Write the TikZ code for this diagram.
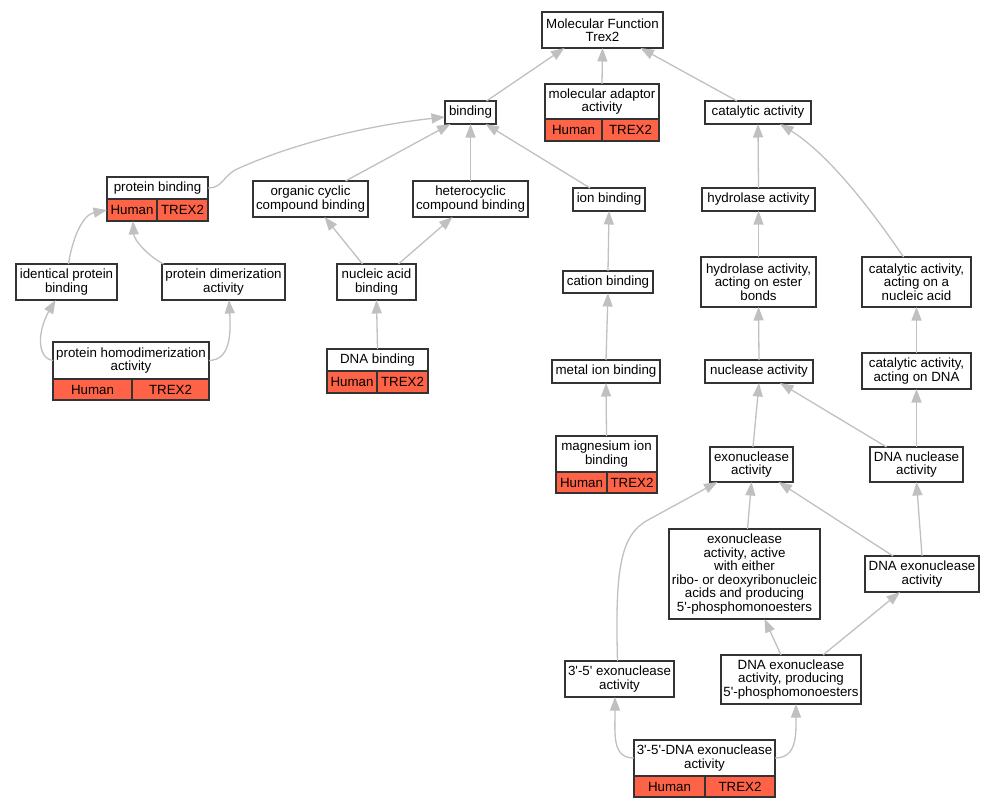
\documentclass[tikz,border=0pt]{standalone}
\usepackage{fontspec}
\setmainfont{Liberation Sans}
\usetikzlibrary{arrows.meta}
\definecolor{genered}{HTML}{FF6347}
\definecolor{edgegray}{HTML}{C0C0C0}
\newcommand{\pq}{\textquotesingle}
\tikzset{
  term/.style={draw=black!80, line width=1.3pt, fill=white, align=center, inner sep=0pt, outer sep=0pt, font=\fontsize{13.33}{13.5}\selectfont},
  gene/.style={term, fill=genered, anchor=north west},
  isa/.style={draw=edgegray, line width=1.3pt, -{Triangle[length=13.5pt,width=10pt]}}
}
\begin{document}
\begin{tikzpicture}[x=1pt,y=-1pt]
    \useasboundingbox (0,0) rectangle (995,808);
    % terms
    \node[term, minimum width=121pt, minimum height=36pt] (mf) at (602.5, 30) {Molecular Function\\Trex2};
    \node[term, minimum width=114pt, minimum height=35pt] (adaptor) at (602, 101.5) {molecular adaptor\\activity};
    \node[gene, minimum width=57pt, minimum height=22pt] (adaptor-h) at (adaptor.south west) {Human};
    \node[gene, minimum width=57pt, minimum height=22pt] (adaptor-t) at (adaptor-h.north east) {TREX2};
    \node[term, minimum width=106pt, minimum height=23pt] (cat) at (758, 112.5) {catalytic activity};
    \node[term, minimum width=51pt, minimum height=23pt] (binding) at (470.5, 112.5) {binding};
    \node[term, minimum width=101pt, minimum height=22pt] (pbind) at (157.5, 188) {protein binding};
    \node[gene, minimum width=50pt, minimum height=22pt] (pbind-h) at (pbind.south west) {Human};
    \node[gene, minimum width=51pt, minimum height=22pt] (pbind-t) at (pbind-h.north east) {TREX2};
    \node[term, minimum width=115pt, minimum height=36pt] (organic) at (310.5, 199) {organic cyclic\\compound binding};
    \node[term, minimum width=115pt, minimum height=36pt] (hetero) at (470.5, 199) {heterocyclic\\compound binding};
    \node[term, minimum width=72pt, minimum height=23pt] (ion) at (609, 199.5) {ion binding};
    \node[term, minimum width=113pt, minimum height=23pt] (hydro) at (758.5, 199.5) {hydrolase activity};
    \node[term, minimum width=101pt, minimum height=36pt] (identical) at (66.5, 282) {identical protein\\binding};
    \node[term, minimum width=123pt, minimum height=36pt] (dimer) at (223.5, 282) {protein dimerization\\activity};
    \node[term, minimum width=79pt, minimum height=36pt] (nucleic) at (376.5, 282) {nucleic acid\\binding};
    \node[term, minimum width=90pt, minimum height=22pt] (cation) at (608, 282) {cation binding};
    \node[term, minimum width=115pt, minimum height=50pt] (hydroester) at (758.5, 282) {hydrolase activity,\\acting on ester\\bonds};
    \node[term, minimum width=109pt, minimum height=50pt] (catnucl) at (916.5, 282) {catalytic activity,\\acting on a\\nucleic acid};
    \node[term, minimum width=156pt, minimum height=37pt] (homodimer) at (131, 360.5) {protein homodimerization\\activity};
    \node[gene, minimum width=79pt, minimum height=21pt] (homodimer-h) at (homodimer.south west) {Human};
    \node[gene, minimum width=77pt, minimum height=21pt] (homodimer-t) at (homodimer-h.north east) {TREX2};
    \node[term, minimum width=101pt, minimum height=22pt] (dnabind) at (377.5, 360) {DNA binding};
    \node[gene, minimum width=50pt, minimum height=22pt] (dnabind-h) at (dnabind.south west) {Human};
    \node[gene, minimum width=51pt, minimum height=22pt] (dnabind-t) at (dnabind-h.north east) {TREX2};
    \node[term, minimum width=108pt, minimum height=23pt] (metal) at (606, 371.5) {metal ion binding};
    \node[term, minimum width=108pt, minimum height=23pt] (nuclease) at (759, 371.5) {nuclease activity};
    \node[term, minimum width=109pt, minimum height=36pt] (catdna) at (916.5, 371) {catalytic activity,\\acting on DNA};
    \node[term, minimum width=101pt, minimum height=36pt] (magnesium) at (606.5, 454) {magnesium ion\\binding};
    \node[gene, minimum width=51pt, minimum height=21pt] (magnesium-h) at (magnesium.south west) {Human};
    \node[gene, minimum width=50pt, minimum height=21pt] (magnesium-t) at (magnesium-h.north east) {TREX2};
    \node[term, minimum width=83pt, minimum height=35pt] (exo) at (751.5, 464.5) {exonuclease\\activity};
    \node[term, minimum width=93pt, minimum height=35pt] (dnanucl) at (916.5, 464.5) {DNA nuclease\\activity};
    \node[term, minimum width=151pt, minimum height=90pt] (exoeither) at (744.5, 574) {exonuclease\\activity, active\\with either\\ribo- or deoxyribonucleic\\acids and producing\\5\pq-phosphomonoesters};
    \node[term, minimum width=114pt, minimum height=36pt] (dnaexo) at (922, 574) {DNA exonuclease\\activity};
    \node[term, minimum width=109pt, minimum height=36pt] (exo35) at (619.5, 679) {3\pq-5\pq{} exonuclease\\activity};
    \node[term, minimum width=140pt, minimum height=49pt] (dnaexoprod) at (791, 679.5) {DNA exonuclease\\activity, producing\\5\pq-phosphomonoesters};
    \node[term, minimum width=141pt, minimum height=36pt] (dna35) at (704.5, 758) {3\pq-5\pq-DNA exonuclease\\activity};
    \node[gene, minimum width=71pt, minimum height=21pt] (dna35-h) at (dna35.south west) {Human};
    \node[gene, minimum width=70pt, minimum height=21pt] (dna35-t) at (dna35-h.north east) {TREX2};
    % is_a links
    \draw[isa] ([xshift=16pt]binding.north) -- ([xshift=-38pt]mf.south);
    \draw[isa] (adaptor.north) -- (mf.south);
    \draw[isa] ([xshift=-21pt]cat.north) -- ([xshift=38pt]mf.south);
    \draw[isa] (pbind.east) .. controls (222,188) and (222,178) .. (235,170) .. controls (300,140) and (380,124) .. ([yshift=-4.5pt]binding.west);
    \draw[isa] ([xshift=35pt]organic.north) -- ([xshift=-20pt]binding.south);
    \draw[isa] (hetero.north) -- (binding.south);
    \draw[isa] ([xshift=-19pt]ion.north) -- ([xshift=15pt]binding.south);
    \draw[isa] (hydro.north) -- (cat.south);
    \draw[isa] ([xshift=-13pt]catnucl.north) .. controls (875,215) and (830,155) .. ([xshift=22pt]cat.south);
    \draw[isa] ([xshift=2pt]identical.north) .. controls (72,240) and (82,215) .. (pbind-h.west);
    \draw[isa] ([xshift=-60pt]dimer.north) .. controls (148,256) and (134,240) .. ([xshift=1pt]pbind-h.south);
    \draw[isa] ([xshift=-14pt]nucleic.north) -- ([xshift=14pt]organic.south);
    \draw[isa] ([xshift=22pt]nucleic.north) -- ([xshift=-18pt]hetero.south);
    \draw[isa] (cation.north) -- (ion.south);
    \draw[isa] (hydroester.north) -- (hydro.south);
    \draw[isa] (catdna.north) -- (catnucl.south);
    \draw[isa] (homodimer.west) .. controls (36,358) and (38,330) .. ([xshift=-11pt]identical.south);
    \draw[isa] (homodimer.east) .. controls (230,360) and (231,335) .. ([xshift=5.5pt]dimer.south);
    \draw[isa] (dnabind.north) -- (nucleic.south);
    \draw[isa] (metal.north) -- (cation.south);
    \draw[isa] (nuclease.north) -- (hydroester.south);
    \draw[isa] ([xshift=-30pt]dnanucl.north) -- ([xshift=21pt]nuclease.south);
    \draw[isa] (dnanucl.north) -- (catdna.south);
    \draw[isa] (magnesium.north) -- (metal.south);
    \draw[isa] ([xshift=1.5pt]exo.north) -- (nuclease.south);
    \draw[isa] ([xshift=3pt]exoeither.north) -- (exo.south);
    \draw[isa] ([xshift=-29pt]dnaexo.north) -- ([xshift=27pt]exo.south);
    \draw[isa] (dnaexo.north) -- (dnanucl.south);
    \draw[isa] ([xshift=-2pt]exo35.north) .. controls (615,570) and (620,535) .. (648,520) -- ([xshift=-34pt]exo.south);
    \draw[isa] ([xshift=-10pt]dnaexoprod.north) -- ([xshift=20pt]exoeither.south);
    \draw[isa] ([xshift=32pt]dnaexoprod.north) -- ([xshift=-22pt]dnaexo.south);
    \draw[isa] (dna35.west) .. controls (612,758) and (615,735) .. ([xshift=-4.5pt]exo35.south);
    \draw[isa] (dna35.east) .. controls (797,758) and (796,735) .. ([xshift=5pt]dnaexoprod.south);
\end{tikzpicture}
\end{document}
